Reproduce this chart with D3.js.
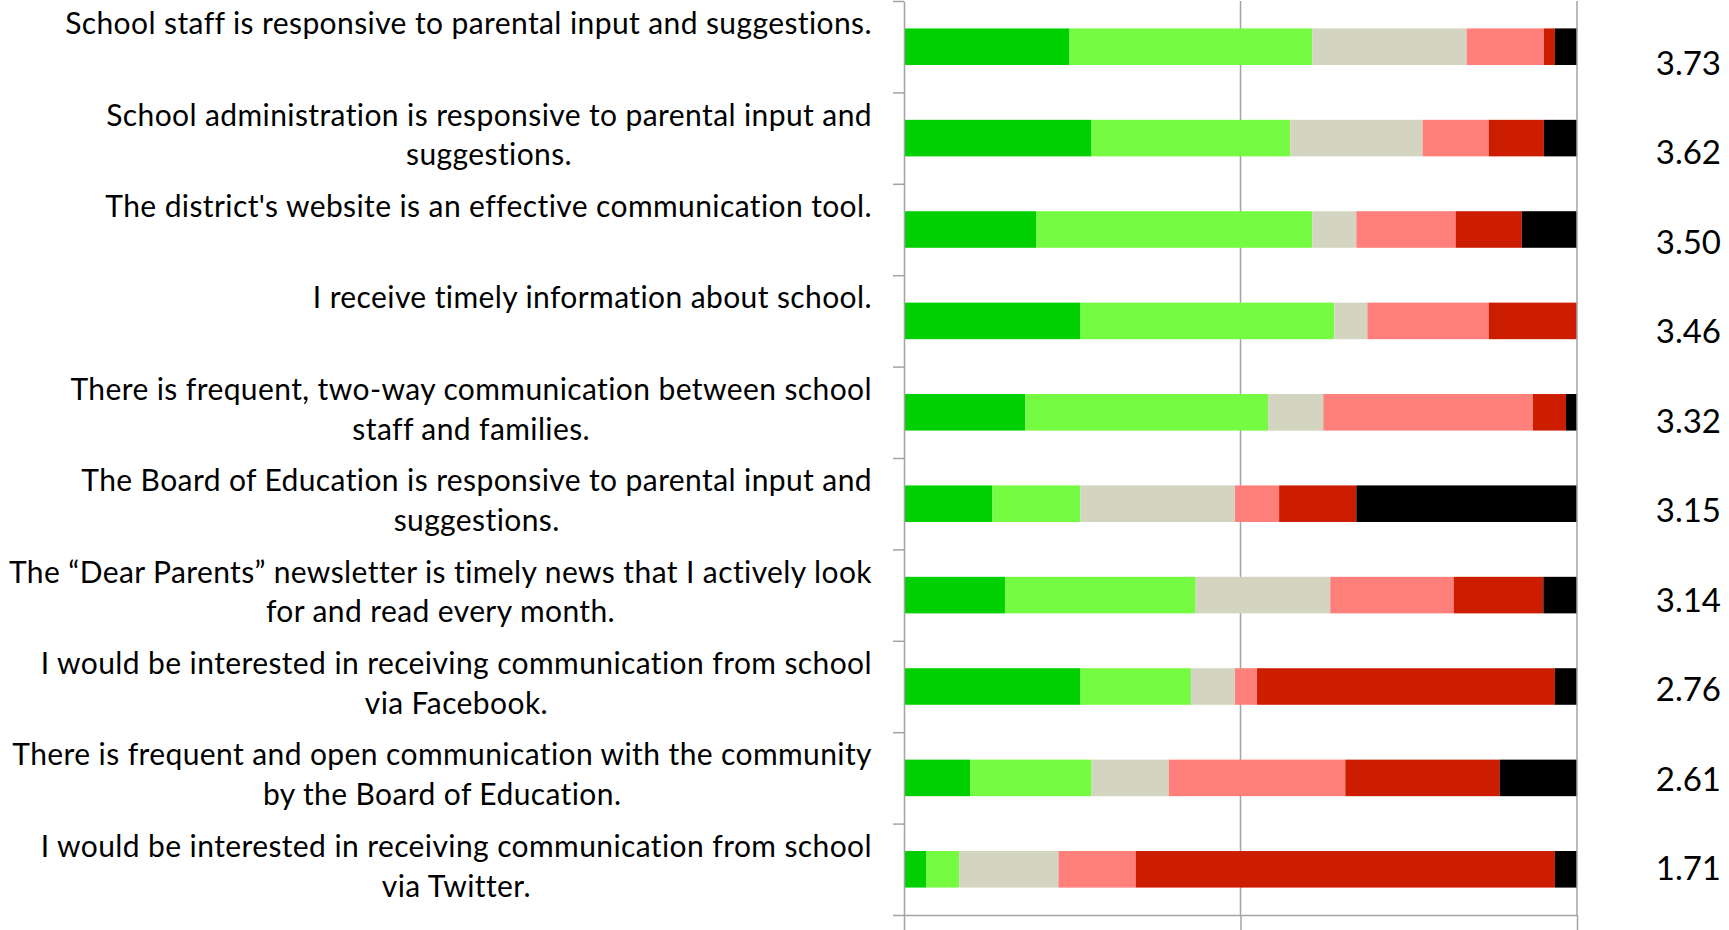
<!DOCTYPE html>
<html lang="en">
	<head>
		<meta charset="utf-8">
		<title>D3: stacked survey bars</title>
		<script src="https://d3js.org/d3.v7.min.js"></script>
		<style type="text/css">
			body { margin: 0; background: #fff; }
			svg { display: block; }
		</style>
	</head>
	<body>
		<script type="text/javascript">
			// survey statements, each one split in the lines shown on the chart
			var statements = [
				["School staff is responsive to parental input and suggestions."],
				["School administration is responsive to parental input and", "suggestions."],
				["The district's website is an effective communication tool."],
				["I receive timely information about school."],
				["There is frequent, two-way communication between school", "staff and families."],
				["The Board of Education is responsive to parental input and", "suggestions."],
				["The \u201cDear Parents\u201d newsletter is timely news that I actively look", "for and read every month."],
				["I would be interested in receiving communication from school", "via Facebook."],
				["There is frequent and open communication with the community", "by the Board of Education."],
				["I would be interested in receiving communication from school", "via Twitter."]
			];

			// response counts per statement
			var stronglyAgree    = [15, 17, 12, 16, 11,  8,  9, 16,  6,  2];
			var agree            = [22, 18, 25, 23, 22,  8, 17, 10, 11,  3];
			var neutral          = [14, 12,  4,  3,  5, 14, 12,  4,  7,  9];
			var disagree         = [ 7,  6,  9, 11, 19,  4, 11,  2, 16,  7];
			var stronglyDisagree = [ 1,  5,  6,  8,  3,  7,  8, 27, 14, 38];
			var dontKnow         = [ 2,  3,  5,  0,  1, 20,  3,  2,  7,  2];

			// mean rating shown right of each bar
			var means = [3.73, 3.62, 3.50, 3.46, 3.32, 3.15, 3.14, 2.76, 2.61, 1.71];

			var keys = ["sa", "a", "n", "d", "sd", "dk"];
			var colors = ["#00d000", "#74fb42", "#d3d5c1", "#ff7f7b", "#cd1d00", "#000000"];

			var width = 1729, height = 930;
			var plot = {left: 904, right: 1577, top: 1, bottom: 915};

			var table = statements.map(function(s, i){
				return {id: i, sa: stronglyAgree[i], a: agree[i], n: neutral[i],
					d: disagree[i], sd: stronglyDisagree[i], dk: dontKnow[i]};
			});

			var series = d3.stack()
				.keys(keys)
				.offset(d3.stackOffsetExpand)(table);

			var xscale = d3.scaleLinear()
				.domain([0, 1])
				.range([plot.left, plot.right]);

			var yscale = d3.scaleBand()
				.domain(table.map(function(d){ return d.id; }))
				.range([plot.top, plot.bottom])
				.paddingInner(0.6)
				.paddingOuter(0.3);

			// category boundaries for the left tick marks
			var yedge = d3.scaleLinear()
				.domain([0, statements.length])
				.range([plot.top, plot.bottom]);

			// baselines of the mean labels
			var ymean = d3.scalePoint()
				.domain(table.map(function(d){ return d.id; }))
				.range([75, 880]);

			var color = d3.scaleOrdinal().domain(keys).range(colors);

			var svg = d3.select("body")
				.append("svg")
				.attr("width", width)
				.attr("height", height);

			// 50% gridline behind the bars
			svg.append("line")
				.attr("x1", xscale(0.5)).attr("x2", xscale(0.5))
				.attr("y1", plot.top).attr("y2", plot.bottom)
				.attr("stroke", "#a3a3a3")
				.attr("stroke-width", 1.5);

			svg.append("g")
				.selectAll("g")
				.data(series)
				.enter()
				.append("g")
				.attr("fill", function(d){ return color(d.key); })
				.selectAll("rect")
				.data(function(d){ return d; })
				.enter()
				.append("rect")
				.attr("x", function(d){ return xscale(d[0]); })
				.attr("width", function(d){ return xscale(d[1]) - xscale(d[0]); })
				.attr("y", function(d){ return yscale(d.data.id); })
				.attr("height", yscale.bandwidth());

			// 100% gridline on top
			svg.append("line")
				.attr("x1", xscale(1)).attr("x2", xscale(1))
				.attr("y1", plot.top).attr("y2", plot.bottom)
				.attr("stroke", "#a3a3a3")
				.attr("stroke-width", 1.5);

			// x axis, labels fall outside the picture
			var xaxis = svg.append("g")
				.attr("transform", "translate(0," + plot.bottom + ")")
				.call(d3.axisBottom(xscale)
					.tickValues([0, 0.5, 1])
					.tickSize(24)
					.tickSizeOuter(0)
					.tickFormat(""));

			// y axis with ticks between categories
			var yaxis = svg.append("g")
				.attr("transform", "translate(" + plot.left + ",0)")
				.call(d3.axisLeft(yedge)
					.tickValues(d3.range(statements.length + 1))
					.tickSize(11)
					.tickSizeOuter(0)
					.tickFormat(""));

			[xaxis, yaxis].forEach(function(ax){
				ax.selectAll("path, line")
					.attr("stroke", "#a3a3a3")
					.attr("stroke-width", 1.5);
			});

			// statement labels: block right aligned, lines centred inside it
			var labelRight = 872;
			var labels = svg.append("g")
				.attr("font-family", "Lato, sans-serif")
				.attr("font-size", "30px")
				.attr("letter-spacing", "0.4px")
				.attr("fill", "#000");

			statements.forEach(function(lines, i){
				var g = labels.append("g");
				var cy = yscale(i) + yscale.bandwidth() / 2;
				var texts = g.selectAll("text")
					.data(lines)
					.enter()
					.append("text")
					.attr("y", function(d, j){ return cy - 12.5 + j * 39.7; })
					.attr("text-anchor", "middle")
					.text(function(d){ return d; });
				var w = d3.max(texts.nodes(), function(n){ return n.getComputedTextLength(); });
				texts.attr("x", labelRight - w / 2);
			});

			svg.append("g")
				.selectAll("text")
				.data(means)
				.enter()
				.append("text")
				.attr("x", 1721)
				.attr("y", function(d, i){ return ymean(i); })
				.attr("text-anchor", "end")
				.attr("font-family", "Lato, sans-serif")
				.attr("font-size", "33px")
				.attr("fill", "#000")
				.text(function(d){ return d3.format(".2f")(d); });
		</script>
	</body>
</html>
